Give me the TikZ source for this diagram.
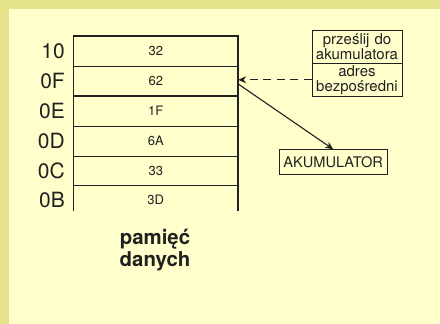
\documentclass[tikz,border=0pt]{standalone}
\usepackage{fontspec}
\setmainfont{TeX Gyre Heros}
\usetikzlibrary{arrows.meta}
\definecolor{outerbg}{RGB}{229,226,140}
\definecolor{innerbg}{RGB}{255,255,204}
\definecolor{ink}{RGB}{35,31,32}
\tikzset{
  addr/.style={anchor=east,inner sep=0pt,font=\fontsize{21}{22}\selectfont,text=ink},
  cell/.style={minimum width=164.5pt,minimum height=30pt,inner sep=0pt,font=\fontsize{13}{15}\selectfont,text=ink},
  cmdbox/.style={draw=ink,line width=0.9pt,text width=90pt,align=center,minimum height=33pt,inner sep=0pt,font=\fontsize{15}{15}\selectfont,text=ink},
  accbox/.style={draw=ink,line width=0.9pt,minimum width=107.5pt,minimum height=24.6pt,inner sep=0pt,font=\fontsize{14.6}{16}\selectfont,text=ink},
  caption/.style={align=center,inner sep=0pt,font=\bfseries\fontsize{20.4}{22}\selectfont,text=ink},
  arr/.style={draw=ink,line width=1.1pt,-{Stealth[length=8pt,width=7pt]}}
}
\begin{document}
\begin{tikzpicture}[x=1pt,y=-1pt]
\fill[outerbg] (0,0) rectangle (440,324);
\fill[innerbg] (9,9) rectangle (440,324);
\useasboundingbox (0,0) rectangle (440,324);
% cells
\node[cell] (c10) at (155.75,51) {32};
\node[cell] (c0F) at (155.75,81) {62};
\node[cell] (c0E) at (155.75,111) {1F};
\node[cell] (c0D) at (155.75,141) {6A};
\node[cell] (c0C) at (155.75,171) {33};
\node[cell] (c0B) at (155.75,200) {3D};
% addresses
\node[addr] (a10) at (65,51) {10};
\node[addr] (a0F) at (65,81) {0F};
\node[addr] (a0E) at (65,111) {0E};
\node[addr] (a0D) at (65,141) {0D};
\node[addr] (a0C) at (65,171) {0C};
\node[addr] (a0B) at (65,200) {0B};
% table lines
\draw[ink,line width=1.6pt] (73.5,211) -- (73.5,36) -- (238,36) -- (238,211);
\draw[ink,line width=0.7pt] (73.5,66) -- (238,66);
\draw[ink,line width=1.3pt] (73.5,96) -- (238,96);
\draw[ink,line width=0.9pt] (73.5,126) -- (238,126);
\draw[ink,line width=0.9pt] (73.5,156) -- (238,156);
\draw[ink,line width=0.9pt] (73.5,185.5) -- (238,185.5);
% command box
\node[cmdbox,minimum height=32.6pt] (cmdtop) at (357,47) {prześlij do\\akumulatora};
\node[cmdbox,minimum height=33pt] (cmdbot) at (357,79.8) {adres\\bezpośredni};
% accumulator
\node[accbox] (acc) at (333.2,162) {AKUMULATOR};
% caption
\node[caption] (cap) at (155,250) {pamięć\\danych};
% connectors
\draw[arr,dash pattern=on 8pt off 5.5pt] (cmdbot.west) -- (cmdbot.west -| c0F.east);
\draw[arr] ([yshift=-3pt]c0F.east) -- (acc.north);
\end{tikzpicture}
\end{document}
